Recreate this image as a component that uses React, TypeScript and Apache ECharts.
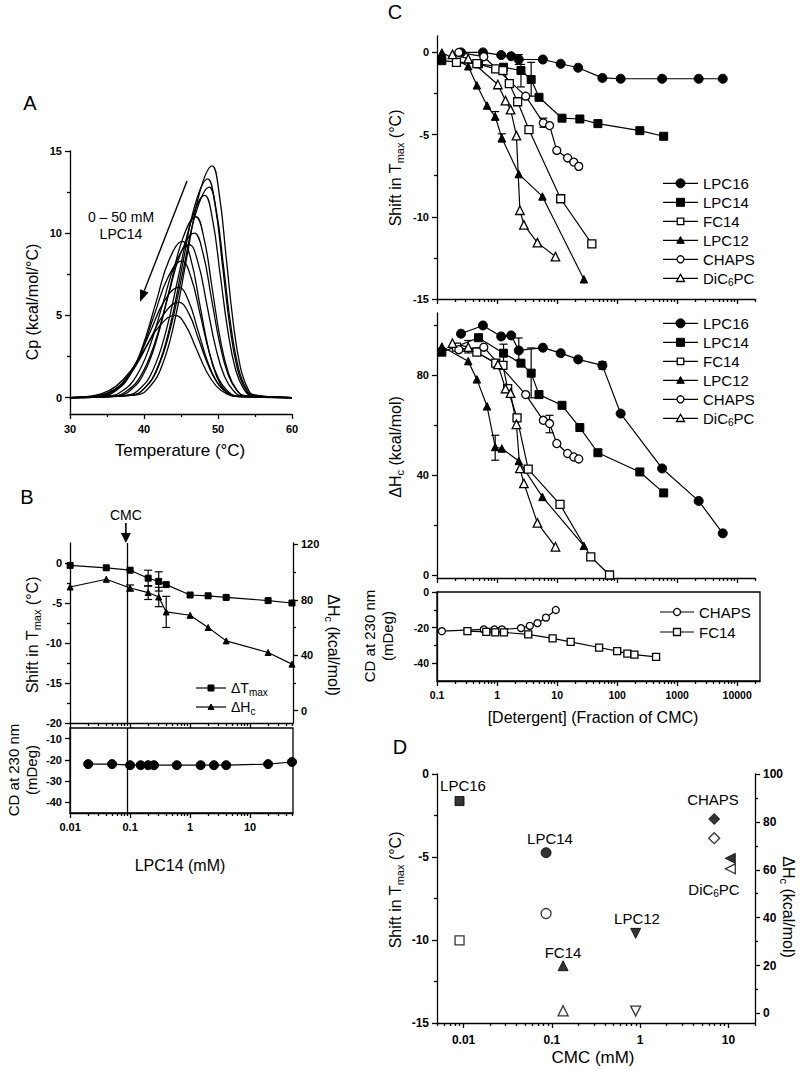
import React, { useEffect, useRef } from "react";
import * as echarts from "echarts";

const FONT = '"Liberation Sans", Arial, Helvetica, sans-serif';
const BLACK = "#000";

// ===== Panel A: DSC thermograms, 0–50 mM LPC14 ([T °C, Cp]) =====
const dsc01 = [[30,0],[39.0,0.16],[40.7,0.62],[42.4,1.9],[44.1,4.58],[45.8,8.56],[47.5,12.44],[49.2,14.1],[50.15,12.44],[51.1,8.56],[52.05,4.58],[53.0,1.9],[53.95,0.62],[54.9,0.16],[60,0]];
const dsc02 = [[30,0],[38.4,0.15],[40.1,0.59],[41.8,1.8],[43.5,4.32],[45.2,8.07],[46.9,11.73],[48.6,13.3],[49.6,11.73],[50.6,8.07],[51.6,4.32],[52.6,1.8],[53.6,0.59],[54.6,0.15],[60,0]];
const dsc03 = [[30,0],[38.3,0.14],[40.05,0.56],[41.8,1.73],[43.55,4.16],[45.3,7.77],[47.05,11.29],[48.8,12.8],[49.8,11.29],[50.8,7.77],[51.8,4.16],[52.8,1.73],[53.8,0.56],[54.8,0.14],[60,0]];
const dsc04 = [[30,0],[37.7,0.14],[39.45,0.54],[41.2,1.66],[42.95,4.0],[44.7,7.47],[46.45,10.85],[48.2,12.3],[49.25,10.85],[50.3,7.47],[51.35,4.0],[52.4,1.66],[53.45,0.54],[54.5,0.14],[60,0]];
const dsc05 = [[30,0],[36.5,0.12],[38.25,0.48],[40.0,1.49],[41.75,3.57],[43.5,6.68],[45.25,9.7],[47.0,11.0],[48.1,9.7],[49.2,6.68],[50.3,3.57],[51.4,1.49],[52.5,0.48],[53.6,0.12],[60,0]];
const dsc06 = [[30,0],[36.0,0.11],[37.8,0.44],[39.6,1.35],[41.4,3.25],[43.2,6.07],[45.0,8.82],[46.8,10.0],[47.95,8.82],[49.1,6.07],[50.25,3.25],[51.4,1.35],[52.55,0.44],[53.7,0.11],[60,0]];
const dsc07 = [[30,0],[34.4,0.1],[36.2,0.42],[38.0,1.29],[39.8,3.09],[41.6,5.76],[43.4,8.38],[45.2,9.5],[46.35,8.38],[47.5,5.76],[48.65,3.09],[49.8,1.29],[50.95,0.42],[52.1,0.1],[60,0]];
const dsc08 = [[30,0],[35.3,0.1],[37.1,0.41],[38.9,1.26],[40.7,3.02],[42.5,5.64],[44.3,8.21],[46.1,9.3],[47.3,8.21],[48.5,5.64],[49.7,3.02],[50.9,1.26],[52.1,0.41],[53.3,0.1],[60,0]];
const dsc09 = [[30,0],[34.0,0.09],[35.85,0.37],[37.7,1.12],[39.55,2.7],[41.4,5.04],[43.25,7.32],[45.1,8.3],[46.35,7.32],[47.6,5.04],[48.85,2.7],[50.1,1.12],[51.35,0.37],[52.6,0.09],[60,0]];
const dsc10 = [[30,0],[33.3,0.07],[35.2,0.29],[37.1,0.9],[39.0,2.18],[40.9,4.07],[42.8,5.91],[44.7,6.7],[46.0,5.91],[47.3,4.07],[48.6,2.18],[49.9,0.9],[51.2,0.29],[52.5,0.07],[60,0]];
const dsc11 = [[30,0],[33.0,0.06],[34.95,0.26],[36.9,0.78],[38.85,1.89],[40.8,3.52],[42.75,5.12],[44.7,5.8],[46.05,5.12],[47.4,3.52],[48.75,1.89],[50.1,0.78],[51.45,0.26],[52.8,0.06],[60,0]];
const dsc12 = [[30,0],[32.2,0.06],[34.2,0.22],[36.2,0.68],[38.2,1.63],[40.2,3.04],[42.2,4.41],[44.2,5.0],[45.6,4.41],[47.0,3.04],[48.4,1.63],[49.8,0.68],[51.2,0.22],[52.6,0.06],[60,0]];
const dscCurves = [dsc01, dsc02, dsc03, dsc04, dsc05, dsc06, dsc07, dsc08, dsc09, dsc10, dsc11, dsc12];

const aXTicks = [30, 40, 50, 60];
const aXMinor = [35, 45, 55];
const aYTicks = [0, 5, 10, 15];
const aYMinor = [2.5, 7.5, 12.5];

// ===== Panel B: LPC14 titration =====
const bConc = [0.01, 0.04, 0.1, 0.2, 0.3, 0.4, 1, 2, 4, 20, 50];
const bShift = [-0.3, -0.6, -0.9, -1.9, -2.3, -2.7, -4.0, -4.1, -4.3, -4.7, -5.0];
const bDH = [89.2, 94.8, 88.5, 85.2, 82.0, 71.2, 68.8, 60.0, 50.3, 41.9, 33.5];
const bShiftErr = [[0.2, -2.9, -0.9], [0.3, -3.5, -1.1]];
const bDHErr = [[0.1, 86.3, 90.7], [0.2, 80.2, 90.2], [0.3, 75, 89], [0.4, 60, 82.5]];
const bCdConc = [0.02, 0.05, 0.1, 0.15, 0.2, 0.25, 0.6, 1.5, 2.5, 4, 20, 50];
const bCdVal = [-22, -22, -22.5, -22.5, -22.5, -22.5, -22.5, -22.5, -22.5, -22.5, -22, -21];
const bCmc = 0.085;
const bXTicks = [0.01, 0.1, 1, 10];
const bShiftTicks = [-20, -15, -10, -5, 0];
const bShiftMinor = [-17.5, -12.5, -7.5, -2.5];
const bDHTicks = [0, 40, 80, 120];
const bDHMinor = [20, 60, 100];
const bCdTicks = [-40, -30, -20, -10];

// ===== Panel C: x = [detergent] as fraction of CMC =====
const cLpc16Conc = [0.25, 0.58, 1.17, 1.72, 2.3, 5.8, 11.5, 22.5, 57, 115, 565, 2300, 5800];
const cLpc16Shift = [0, 0, -0.16, -0.23, -0.43, -0.43, -0.69, -0.93, -1.55, -1.6, -1.6, -1.6, -1.6];
const cLpc16DH = [96.7, 100, 95.6, 96, 90, 91.1, 88.9, 86.4, 84, 64.7, 42.7, 29.7, 16.7];
const cLpc14Conc = [0.12, 0.49, 1.28, 2.5, 3.7, 5.0, 12.1, 24, 48, 240, 600];
const cLpc14Shift = [-0.5, -0.7, -0.9, -1.1, -1.65, -2.73, -4.0, -4.05, -4.33, -4.76, -5.1];
const cLpc14DH = [89.3, 95.1, 88.9, 84.9, 80.9, 72.3, 68, 59.1, 49, 41.3, 32.9];
const cFc14ShiftConc = [0.21, 0.46, 0.95, 1.25, 1.6, 2.2, 3.4, 11.5, 38];
const cFc14Shift = [-0.6, -0.68, -1.0, -1.1, -1.9, -3.0, -4.7, -8.9, -11.65];
const cFc14DHConc = [0.21, 0.46, 0.95, 1.25, 1.5, 2.15, 3.3, 11.2, 36.5, 75];
const cFc14DH = [91.3, 89.3, 84.9, 84, 74.7, 63, 42.4, 28.3, 7.3, 0];
const cLpc12Conc = [0.12, 0.33, 0.46, 0.68, 0.93, 1.2, 2.3, 5.7, 28];
const cLpc12Shift = [0, -0.84, -2.0, -3.23, -3.9, -5.2, -7.4, -8.76, -13.8];
const cLpc12DH = [91.6, 85.7, 78.4, 67.6, 51.3, 50.7, 45.7, 31.3, 11.7];
const cChapsConc = [0.23, 0.6, 3.0, 5.9, 7.5, 9.9, 15, 19, 23];
const cChapsShift = [0, -0.26, -2.66, -4.29, -4.45, -5.96, -6.42, -6.67, -6.93];
const cChapsDH = [90.3, 91.3, 72.3, 62, 60.7, 52.7, 48.7, 47.3, 46.5];
const cDic6Conc = [0.18, 0.33, 1.03, 1.38, 1.68, 2.1, 2.4, 2.8, 4.7, 9.4];
const cDic6Shift = [-0.12, -0.38, -1.95, -2.93, -3.48, -5.06, -9.6, -10.49, -11.57, -12.42];
const cDic6DH = [92.9, 91.3, 84.4, 74.7, 72.9, 60.4, 42.7, 36.7, 20.9, 11.3];
const cShiftErr = [[2.3, -0.73, -0.13], [2.5, -2.1, -0.73], [3.7, -2.66, -0.6], [0.93, -4.1, -3.6], [1.2, -5.45, -4.95], [5.9, -4.55, -4.0], [0.95, -1.15, -0.85]];
const cDHErr = [[2.3, 86, 95], [57, 82.5, 85.5], [3.7, 71, 91], [1.28, 85.5, 92.5], [0.93, 46, 56], [7.5, 57, 64], [0.33, 89, 94]];
const cChapsCdConc = [0.12, 0.6, 0.9, 1.2, 2.5, 3.5, 4.7, 6.5, 9.5];
const cChapsCd = [-22, -21, -21, -21, -20.3, -19, -17.5, -14.4, -10.1];
const cFc14CdConc = [0.32, 0.66, 0.93, 1.3, 3.3, 8.4, 16.8, 50, 100, 148, 194, 445];
const cFc14Cd = [-22, -22.4, -22.7, -22.7, -23.8, -26.1, -28, -31.2, -33.2, -34.6, -35.2, -36.5];
const cXTicks = [0.1, 1, 10, 100, 1000, 10000];
const cShiftTicks = [-15, -10, -5, 0];
const cShiftMinor = [-12.5, -7.5, -2.5];
const cDHTicks = [0, 40, 80];
const cDHMinor = [20, 60, 100];
const cCdTicks = [-40, -20, 0];
const cCdMinor = [-30, -10];
const cNames = ["LPC16", "LPC14", "FC14", "LPC12", "CHAPS", "DiC6PC"];

// ===== Panel D: CMC vs. effect =====
const dNames = ["LPC16", "LPC14", "FC14", "LPC12", "CHAPS", "DiC6PC"];
const dCmc = [0.009, 0.086, 0.134, 0.89, 6.9, 10.5];
const dShift = [-1.63, -4.74, -11.55, -9.6, -2.71, -5.08];
const dDH = [30.5, 41.7, 1.1, 1.0, 73.2, 60.4];
const dXTicks = [0.01, 0.1, 1, 10];
const dShiftTicks = [-15, -10, -5, 0];
const dShiftMinor = [-12.5, -7.5, -2.5];
const dDHTicks = [0, 20, 40, 60, 80, 100];
const dDHMinor = [10, 30, 50, 70, 90];

// ---------- helpers ----------
const LINE = { color: BLACK, width: 1.3 };
const fmtNum = (v: number) => String(Number(Number(v).toPrecision(6)));
const zip = (xs: number[], ys: number[]) => xs.map((x, i) => [x, ys[i]]);

function logMinor(lo: number, hi: number) {
  const out: number[] = [];
  for (let e = -4; e <= 5; e++) {
    for (let m = 2; m <= 9; m++) {
      const v = Number((m * Math.pow(10, e)).toPrecision(3));
      if (v >= lo && v <= hi) out.push(v);
    }
  }
  return out;
}

type AxisSpec = {
  grid: number; type?: string; min: number; max: number; major: number[]; minor?: number[];
  position: string; labels?: boolean; fontSize?: number; margin?: number;
};

function makeAxes(list: any[], s: AxisSpec): number {
  const base: any = {
    type: s.type || "value", gridIndex: s.grid, min: s.min, max: s.max, position: s.position,
    splitLine: { show: false }, minorTick: { show: false }, minorSplitLine: { show: false },
  };
  if (s.type === "log") base.logBase = 10;
  const idx = list.length;
  list.push({
    ...base,
    axisLine: { show: true, onZero: false, lineStyle: LINE },
    axisTick: { show: true, length: 5, customValues: s.major, lineStyle: LINE },
    axisLabel: s.labels === false ? { show: false } : {
      show: true, customValues: s.major, color: BLACK, fontFamily: FONT,
      fontSize: s.fontSize ?? 11, fontWeight: "bold", margin: s.margin ?? 8, formatter: fmtNum,
    },
  });
  if (s.minor && s.minor.length) {
    list.push({
      ...base,
      axisLine: { show: false, onZero: false },
      axisTick: { show: true, length: 3, customValues: s.minor, lineStyle: LINE },
      axisLabel: { show: false },
    });
  }
  return idx;
}

function errSeries(xi: number, yi: number, data: number[][]) {
  return {
    type: "custom", xAxisIndex: xi, yAxisIndex: yi, data, silent: true, z: 3,
    encode: { x: 0, y: [1, 2] },
    renderItem: (_p: any, api: any) => {
      const x = api.value(0), lo = api.value(1), hi = api.value(2);
      const a = api.coord([x, lo]);
      const b = api.coord([x, hi]);
      const w = 4;
      const st = { stroke: BLACK, lineWidth: 1.2 };
      return {
        type: "group",
        children: [
          { type: "line", shape: { x1: a[0], y1: a[1], x2: b[0], y2: b[1] }, style: st },
          { type: "line", shape: { x1: a[0] - w, y1: a[1], x2: a[0] + w, y2: a[1] }, style: st },
          { type: "line", shape: { x1: b[0] - w, y1: b[1], x2: b[0] + w, y2: b[1] }, style: st },
        ],
      };
    },
  };
}

const FILLED = { color: BLACK, borderColor: BLACK, borderWidth: 1 };
const OPEN = { color: "#fff", borderColor: BLACK, borderWidth: 1.3 };

function lineSeries(name: string, xi: number, yi: number, data: number[][], symbol: string, size: number, open: boolean, extra: any = {}) {
  return {
    type: "line", name, xAxisIndex: xi, yAxisIndex: yi, data, symbol, symbolSize: size,
    showSymbol: true, showAllSymbol: true, lineStyle: { color: BLACK, width: 1.2 },
    itemStyle: open ? OPEN : FILLED, emphasis: { disabled: true }, z: 4, ...extra,
  };
}

function richStyles(size: number) {
  const sub = Math.round(size * 0.68);
  return {
    n: { fontSize: size, fontFamily: FONT, lineHeight: size + 4, fill: BLACK },
    s: { fontSize: sub, fontFamily: FONT, lineHeight: sub - 1, verticalAlign: "bottom", fill: BLACK },
  };
}

function txt(x: number, y: number, text: string, size: number, rot = 0, rich = false, extra: any = {}) {
  return {
    type: "text", x, y, rotation: rot, silent: true, z: 10,
    style: {
      text, fontFamily: FONT, fontSize: size, fill: BLACK, align: "center", verticalAlign: "middle",
      rich: rich ? richStyles(size) : undefined, ...extra,
    },
  };
}

const labelRich = (name: string) => {
  if (name === "DiC6PC") return "{n|DiC}{s|6}{n|PC}";
  if (name === "ΔTmax") return "{n|ΔT}{s|max}";
  if (name === "ΔHc") return "{n|ΔH}{s|c}";
  return "{n|" + name + "}";
};

function keySymbol(cx: number, cy: number, shape: string, size: number, open: boolean) {
  const style = open ? { fill: "#fff", stroke: BLACK, lineWidth: 1.3 } : { fill: BLACK, stroke: BLACK, lineWidth: 1 };
  const h = size / 2;
  if (shape === "circle") return { type: "circle", silent: true, z: 11, shape: { cx, cy, r: h }, style };
  if (shape === "rect") return { type: "rect", silent: true, z: 11, shape: { x: cx - h, y: cy - h, width: size, height: size }, style };
  return { type: "polygon", silent: true, z: 11, shape: { points: [[cx, cy - h], [cx + h, cy + h * 0.8], [cx - h, cy + h * 0.8]] }, style };
}

function legendEls(x0: number, y0: number, step: number, names: string[], keys: [string, number, boolean][], size: number, lineLen = 35) {
  const out: any[] = [];
  names.forEach((n, i) => {
    const y = y0 + i * step;
    out.push({ type: "line", silent: true, z: 10, shape: { x1: x0, y1: y, x2: x0 + lineLen, y2: y }, style: { stroke: BLACK, lineWidth: 1.2 } });
    out.push(keySymbol(x0 + lineLen / 2, y, keys[i][0], keys[i][1], keys[i][2]));
    out.push({
      type: "text", x: x0 + lineLen + 5, y, silent: true, z: 10,
      style: { text: labelRich(n), align: "left", verticalAlign: "middle", fontFamily: FONT, fontSize: size, fill: BLACK, rich: richStyles(size) },
    });
  });
  return out;
}

const cKeys: [string, number, boolean][] = [
  ["circle", 9, false], ["rect", 8, false], ["rect", 6.5, true], ["triangle", 7.5, false], ["circle", 7, true], ["triangle", 8, true],
];

function buildOption() {
  const grid: any[] = [
    { left: 70, top: 151, width: 222, height: 263 },                          // 0 A
    { left: 70, top: 543, width: 223, height: 180 },                          // 1 B
    { left: 70, top: 728, width: 223, height: 85, show: true, borderColor: BLACK, borderWidth: 1.3 }, // 2 B CD
    { left: 437, top: 36, width: 318, height: 263 },                          // 3 C shift
    { left: 437, top: 313, width: 318, height: 265 },                         // 4 C dH
    { left: 437, top: 592, width: 323, height: 89, show: true, borderColor: BLACK, borderWidth: 1.3 }, // 5 C CD
    { left: 437, top: 774, width: 318, height: 249 },                         // 6 D
  ];
  const xAxis: any[] = [];
  const yAxis: any[] = [];

  const xA = makeAxes(xAxis, { grid: 0, min: 30, max: 60, major: aXTicks, minor: aXMinor, position: "bottom", margin: 9 });
  const yA = makeAxes(yAxis, { grid: 0, min: -1, max: 15, major: aYTicks, minor: aYMinor, position: "left" });

  const xB = makeAxes(xAxis, { grid: 1, type: "log", min: 0.00995, max: 52, major: bXTicks, minor: logMinor(0.02, 50), position: "bottom", labels: false });
  const yBl = makeAxes(yAxis, { grid: 1, min: -20, max: 2.5, major: bShiftTicks, minor: bShiftMinor, position: "left" });
  const yBr = makeAxes(yAxis, { grid: 1, min: -9, max: 121, major: bDHTicks, minor: bDHMinor, position: "right" });
  const xBcd = makeAxes(xAxis, { grid: 2, type: "log", min: 0.00995, max: 52, major: bXTicks, minor: logMinor(0.02, 50), position: "bottom" });
  const yBcd = makeAxes(yAxis, { grid: 2, min: -45, max: -5, major: bCdTicks, position: "left" });

  const cMin = 0.0995, cMax = 20000;
  const xC1 = makeAxes(xAxis, { grid: 3, type: "log", min: cMin, max: cMax, major: cXTicks, minor: logMinor(0.2, 20000), position: "bottom", labels: false });
  const yC1 = makeAxes(yAxis, { grid: 3, min: -15, max: 1, major: cShiftTicks, minor: cShiftMinor, position: "left" });
  const xC2 = makeAxes(xAxis, { grid: 4, type: "log", min: cMin, max: cMax, major: cXTicks, minor: logMinor(0.2, 20000), position: "bottom", labels: false });
  const yC2 = makeAxes(yAxis, { grid: 4, min: -1.2, max: 105, major: cDHTicks, minor: cDHMinor, position: "left" });
  const xC3 = makeAxes(xAxis, { grid: 5, type: "log", min: cMin, max: 24000, major: cXTicks, minor: logMinor(0.2, 20000), position: "bottom", fontSize: 10.5 });
  const yC3 = makeAxes(yAxis, { grid: 5, min: -50, max: 0, major: cCdTicks, minor: cCdMinor, position: "left", fontSize: 10.5 });

  const xD = makeAxes(xAxis, { grid: 6, type: "log", min: 0.005, max: 20, major: dXTicks, minor: logMinor(0.005, 20), position: "bottom", fontSize: 12, margin: 11 });
  const yDl = makeAxes(yAxis, { grid: 6, min: -15, max: 0, major: dShiftTicks, minor: dShiftMinor, position: "left", fontSize: 12 });
  const yDr = makeAxes(yAxis, { grid: 6, min: -4, max: 100, major: dDHTicks, minor: dDHMinor, position: "right", fontSize: 12 });

  const series: any[] = [];
  dscCurves.forEach((c, i) => series.push({
    type: "line", name: "dsc" + i, xAxisIndex: xA, yAxisIndex: yA, data: c, smooth: 0.45,
    symbol: "none", showSymbol: false, lineStyle: { color: BLACK, width: 1.3 }, silent: true,
  }));

  const cmcLine = {
    symbol: "none", silent: true, label: { show: false }, lineStyle: { color: BLACK, width: 1.3, type: "solid" },
    data: [{ xAxis: bCmc }],
  };
  series.push(lineSeries("ΔTmax", xB, yBl, zip(bConc, bShift), "rect", 6, false, { markLine: cmcLine }));
  series.push(lineSeries("ΔHc", xB, yBr, zip(bConc, bDH), "triangle", 6, false));
  series.push(errSeries(xB, yBl, bShiftErr));
  series.push(errSeries(xB, yBr, bDHErr));
  series.push(lineSeries("bcd", xBcd, yBcd, zip(bCdConc, bCdVal), "circle", 9, false, { markLine: cmcLine }));

  const cStyles: [string, number, boolean][] = [
    ["circle", 9, false], ["rect", 8, false], ["rect", 8, true], ["triangle", 7.5, false], ["circle", 8, true], ["triangle", 8.5, true],
  ];
  const cShiftData = [zip(cLpc16Conc, cLpc16Shift), zip(cLpc14Conc, cLpc14Shift), zip(cFc14ShiftConc, cFc14Shift), zip(cLpc12Conc, cLpc12Shift), zip(cChapsConc, cChapsShift), zip(cDic6Conc, cDic6Shift)];
  const cDHData = [zip(cLpc16Conc, cLpc16DH), zip(cLpc14Conc, cLpc14DH), zip(cFc14DHConc, cFc14DH), zip(cLpc12Conc, cLpc12DH), zip(cChapsConc, cChapsDH), zip(cDic6Conc, cDic6DH)];
  cNames.forEach((n, i) => {
    const [sym, sz, open] = cStyles[i];
    series.push(lineSeries(n, xC1, yC1, cShiftData[i], sym, sz, open));
    series.push(lineSeries(n, xC2, yC2, cDHData[i], sym, sz, open));
  });
  series.push(errSeries(xC1, yC1, cShiftErr));
  series.push(errSeries(xC2, yC2, cDHErr));
  series.push(lineSeries("CHAPS", xC3, yC3, zip(cChapsCdConc, cChapsCd), "circle", 7, true));
  series.push(lineSeries("FC14", xC3, yC3, zip(cFc14CdConc, cFc14Cd), "rect", 7, true));

  const dSym = [["rect", 0], ["circle", 0], ["triangle", 0], ["triangle", 180], ["diamond", 0], ["triangle", 90]];
  const dSize = [9, 10, 10, 10, 11, 10];
  series.push({
    type: "scatter", name: "dShift", xAxisIndex: xD, yAxisIndex: yDl, silent: true, z: 4,
    data: dCmc.map((c, i) => ({ name: dNames[i], value: [c, dShift[i]], symbol: dSym[i][0], symbolRotate: dSym[i][1], symbolSize: dSize[i] })),
    itemStyle: FILLED,
  });
  series.push({
    type: "scatter", name: "dDH", xAxisIndex: xD, yAxisIndex: yDr, silent: true, z: 4,
    data: dCmc.map((c, i) => ({ name: dNames[i], value: [c, dDH[i]], symbol: dSym[i][0], symbolRotate: dSym[i][1], symbolSize: dSize[i] })),
    itemStyle: OPEN,
  });

  return { animation: false, backgroundColor: "#fff", grid, xAxis, yAxis, series, _ax: { xB } };
}

function buildGraphic(cmcX: number) {
  const PI2 = Math.PI / 2;
  const els: any[] = [
    txt(30, 103, "A", 20),
    txt(121, 217, "0 – 50 mM", 14),
    txt(121, 234, "LPC14", 14),
    txt(32, 302, "Cp (kcal/mol/°C)", 16, PI2),
    txt(180, 450, "Temperature (°C)", 17),
    { type: "line", silent: true, shape: { x1: 187, y1: 181, x2: 144.3, y2: 290.8 }, style: { stroke: BLACK, lineWidth: 1.4 } },
    { type: "polygon", silent: true, shape: { points: [[140, 302], [148.5, 292.4], [140.1, 289.2]] }, style: { fill: BLACK } },
    txt(27, 497, "B", 20),
    txt(cmcX, 515, "CMC", 14),
    { type: "line", silent: true, shape: { x1: cmcX, y1: 523, x2: cmcX, y2: 536 }, style: { stroke: BLACK, lineWidth: 1.6 } },
    { type: "polygon", silent: true, shape: { points: [[cmcX - 5, 533], [cmcX + 5, 533], [cmcX, 543]] }, style: { fill: BLACK } },
    txt(32, 635, "{n|Shift in T}{s|max}{n| (°C)}", 16, PI2, true),
    txt(333, 645, "{n|ΔH}{s|c}{n| (kcal/mol)}", 16, -PI2, true),
    txt(22, 770, "CD at 230 nm\n(mDeg)", 15, PI2, false, { lineHeight: 18 }),
    txt(180, 865, "LPC14 (mM)", 16),
    ...legendEls(196, 688, 19, ["ΔTmax", "ΔHc"], [["rect", 6, false], ["triangle", 6, false]], 14, 30),
    txt(395, 12, "C", 20),
    txt(395, 168, "{n|Shift in T}{s|max}{n| (°C)}", 16, PI2, true),
    txt(395, 447, "{n|ΔH}{s|c}{n| (kcal/mol)}", 16, PI2, true),
    txt(378, 636, "CD at 230 nm\n(mDeg)", 15, PI2, false, { lineHeight: 18 }),
    txt(593, 717, "[Detergent] (Fraction of CMC)", 16),
    ...legendEls(663, 183.3, 19, cNames, cKeys, 15),
    ...legendEls(663, 323.3, 19, cNames, cKeys, 15),
    ...legendEls(660, 612, 20, ["CHAPS", "FC14"], [["circle", 7, true], ["rect", 7, true]], 15, 34),
    txt(400, 747, "D", 20),
    txt(395, 890, "{n|Shift in T}{s|max}{n| (°C)}", 16, PI2, true),
    txt(788, 907, "{n|ΔH}{s|c}{n| (kcal/mol)}", 16, -PI2, true),
    txt(593, 1057, "CMC (mM)", 17),
    txt(463, 785, "LPC16", 15),
    txt(550, 838, "LPC14", 15),
    txt(563, 952, "FC14", 15),
    txt(637, 918, "LPC12", 15),
    txt(713, 799, "CHAPS", 15),
    txt(714, 889, "{n|DiC}{s|6}{n|PC}", 15, 0, true),
  ];
  return { elements: els };
}

export default function App() {
  const ref = useRef<HTMLDivElement>(null);
  useEffect(() => {
    const el = ref.current;
    if (!el) return;
    const chart = echarts.init(el, undefined, { renderer: "svg", width: 800, height: 1070 });
    const opt: any = buildOption();
    const xB = opt._ax.xB;
    delete opt._ax;
    chart.setOption(opt);
    let cmcX = 125;
    try {
      const px = chart.convertToPixel({ xAxisIndex: xB } as any, bCmc as any) as any;
      if (typeof px === "number" && isFinite(px)) cmcX = px;
    } catch (e) { /* keep default */ }
    chart.setOption({ graphic: buildGraphic(cmcX) });
    return () => chart.dispose();
  }, []);
  return <div ref={ref} style={{ position: "fixed", left: 0, top: 0, width: 800, height: 1070, background: "#fff" }} />;
}
